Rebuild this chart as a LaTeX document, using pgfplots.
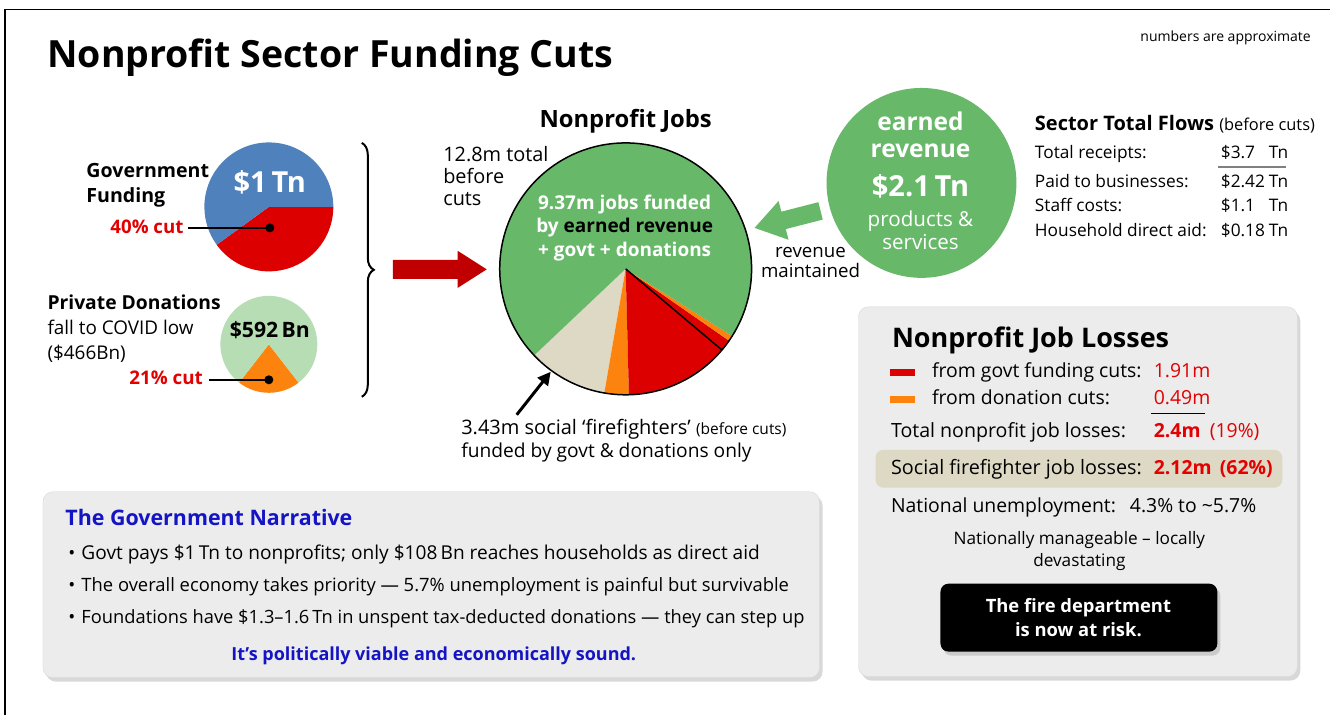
\documentclass[border=0pt]{standalone}
\usepackage{pgfplots}
\pgfplotsset{compat=1.18}
\usepackage{fontspec}
\setmainfont{Open Sans}
\usetikzlibrary{arrows.meta,decorations.pathreplacing,shadows}

\definecolor{npgreen}{RGB}{104,184,106}
\definecolor{npred}{RGB}{221,0,0}
\definecolor{nporange}{RGB}{252,132,14}
\definecolor{npbeige}{RGB}{221,217,196}
\definecolor{npblue}{RGB}{79,129,189}
\definecolor{nplight}{RGB}{183,221,180}
\definecolor{arrowred}{RGB}{192,0,0}
\definecolor{boxgray}{RGB}{236,236,236}
\definecolor{navy}{RGB}{20,20,196}
\definecolor{txtred}{RGB}{226,0,0}

\newcommand{\fs}[1]{\fontsize{#1}{#1}\selectfont}

% pie data: value/colour, drawn in order from the start angle
\def\govdata{0.40/npred, 0.60/npblue}            % $1 Tn, 40% cut
\def\donordata{0.21/nporange, 0.79/nplight}      % $592 Bn, 21% cut
\def\jobsdata{1.31/npbeige, 0.40/nporange, 1.72/npred, 0.19/npred, 0.09/nporange, 9.09/npgreen} % m jobs

% centre x, centre y, radius (pt), start angle, data
\newcommand{\drawpie}[5]{%
  \pgfplotsextra{%
    \gdef\pietotal{0}%
    \foreach \pv/\pc in #5 {\pgfmathparse{\pietotal+\pv}\xdef\pietotal{\pgfmathresult}}%
    \xdef\pieangle{#4}%
    \foreach \pv/\pc in #5 {%
      \pgfmathsetmacro\pieend{\pieangle+360*\pv/\pietotal}%
      \fill[\pc] (axis cs:#1,#2) -- ++(\pieangle:#3pt)
        arc[start angle=\pieangle, end angle=\pieend, radius=#3pt] -- cycle;
      \xdef\pieangle{\pieend}%
    }%
  }}

\begin{document}
\begin{tikzpicture}
\begin{axis}[x=1pt, y=1pt, xmin=0, xmax=1331, ymin=0, ymax=715,
  y dir=reverse, hide axis, clip=false, scale only axis,
  every node/.style={inner sep=0pt}]

  \fill[white] (axis cs:0,0) rectangle (axis cs:1331,715);
  \draw[line width=1.5pt] (axis cs:5,715) -- (axis cs:5,9.5) -- (axis cs:1331,9.5);

  % title
  \node[anchor=base west, font=\fs{37.5}\bfseries] at (axis cs:44,68) {Nonprofit Sector Funding Cuts};
  \node[anchor=base east, font=\fs{14}] at (axis cs:1315,42) {numbers are approximate};

  % government funding pie
  \drawpie{269}{207}{64.5}{216}{\govdata}
  \node[anchor=base, font=\fs{29}\bfseries, text=white] at (axis cs:270,193) {\$1\,Tn};
  \node[anchor=base west, font=\fs{19.6}\bfseries] at (axis cs:83,178) {Government};
  \node[anchor=base west, font=\fs{19.6}\bfseries] at (axis cs:83,203) {Funding};
  \node[anchor=base west, font=\fs{18.7}\bfseries, text=txtred] at (axis cs:107,234) {40\% cut};
  \draw[line width=2pt] (axis cs:188,228) -- (axis cs:270,228);
  \fill (axis cs:270,228) circle[radius=4.5pt];

  % private donations pie
  \drawpie{269}{344.5}{48.5}{232.2}{\donordata}
  \node[anchor=base, font=\fs{21.2}\bfseries] at (axis cs:270,338) {\$592\,Bn};
  \node[anchor=base west, font=\fs{19.3}\bfseries] at (axis cs:44,310) {Private Donations};
  \node[anchor=base west, font=\fs{18.9}] at (axis cs:44,335) {fall to COVID low};
  \node[anchor=base west, font=\fs{18.9}] at (axis cs:44,360) {(\$466Bn)};
  \node[anchor=base west, font=\fs{18.8}\bfseries, text=txtred] at (axis cs:126,385) {21\% cut};
  \draw[line width=2pt] (axis cs:209,380) -- (axis cs:269,380);
  \fill (axis cs:269,380) circle[radius=4.5pt];

  % brace and red arrow
  \draw[line width=2pt, decorate, decoration={brace, amplitude=12pt}] (axis cs:362,143) -- (axis cs:362,397);
  \fill[arrowred] (axis cs:393,260) -- (axis cs:458,260) -- (axis cs:458,251) -- (axis cs:487,269.5)
    -- (axis cs:458,288) -- (axis cs:458,279) -- (axis cs:393,279) -- cycle;

  % nonprofit jobs pie
  \node[anchor=base, font=\fs{23.8}\bfseries] at (axis cs:626,128) {Nonprofit Jobs};
  \drawpie{626}{269}{126}{223.4}{\jobsdata}
  \pgfmathsetmacro\sepangle{223.4+360*3.43/12.8}
  \draw[line width=1.5pt] (axis cs:626,269) -- ++(\sepangle:126pt);
  \draw[line width=1.5pt] (axis cs:626,269) circle[radius=126pt];
  \node[anchor=base west, font=\fs{19.9}] at (axis cs:440,162) {12.8m total};
  \node[anchor=base west, font=\fs{19.9}] at (axis cs:440,184) {before};
  \node[anchor=base west, font=\fs{19.9}] at (axis cs:440,206) {cuts};
  \node[anchor=base, font=\fs{19}\bfseries, text=white] at (axis cs:625,210) {9.37m jobs funded};
  \node[anchor=base, font=\fs{19}\bfseries, text=white] at (axis cs:625,233) {by \textcolor{black}{earned revenue}};
  \node[anchor=base, font=\fs{19}\bfseries, text=white] at (axis cs:625,257) {+ govt + donations};
  \draw[line width=3pt, -{Triangle[length=13pt,width=13pt]}] (axis cs:517,415) -- (axis cs:551,372);
  \node[anchor=base west, font=\fs{20}] at (axis cs:458,435) {3.43m social ‘firefighters’ {\fs{15.5}(before cuts)}};
  \node[anchor=base west, font=\fs{19.2}] at (axis cs:458,458) {funded by govt \& donations only};

  % earned revenue circle
  \fill[npgreen] (axis cs:922,183) circle[radius=95pt];
  \fill[npgreen] (axis cs:818.8,202.3) -- (axis cs:781.8,211.8) -- (axis cs:779,201.1) -- (axis cs:755,228)
    -- (axis cs:789,239.9) -- (axis cs:786.2,229.2) -- (axis cs:823.2,219.7) -- cycle;
  \node[anchor=base, font=\fs{24.5}\bfseries, text=white] at (axis cs:921,131) {earned};
  \node[anchor=base, font=\fs{24.5}\bfseries, text=white] at (axis cs:921,158) {revenue};
  \node[anchor=base, font=\fs{29}\bfseries, text=white] at (axis cs:921,197) {\$2.1\,Tn};
  \node[anchor=base, font=\fs{20.6}, text=white] at (axis cs:921,227) {products \&};
  \node[anchor=base, font=\fs{20.6}, text=white] at (axis cs:921,250) {services};
  \node[anchor=base, font=\fs{18.7}] at (axis cs:811,258) {revenue};
  \node[anchor=base, font=\fs{18.7}] at (axis cs:811,278) {maintained};

  % sector total flows
  \node[anchor=base west, font=\fs{20}] at (axis cs:1032,131) {\textbf{Sector Total Flows} {\fs{16.4}(before cuts)}};
  \node[anchor=base west, font=\fs{17.3}] at (axis cs:1032,159) {Total receipts:};
  \node[anchor=base west, font=\fs{17.3}] at (axis cs:1032,188) {Paid to businesses:};
  \node[anchor=base west, font=\fs{17.3}] at (axis cs:1032,212) {Staff costs:};
  \node[anchor=base west, font=\fs{17.3}] at (axis cs:1032,237) {Household direct aid:};
  \node[anchor=base west, font=\fs{17.3}] at (axis cs:1218,159) {\$3.7};
  \node[anchor=base west, font=\fs{17.3}] at (axis cs:1218,188) {\$2.42};
  \node[anchor=base west, font=\fs{17.3}] at (axis cs:1218,212) {\$1.1};
  \node[anchor=base west, font=\fs{17.3}] at (axis cs:1218,237) {\$0.18};
  \node[anchor=base west, font=\fs{17.3}] at (axis cs:1266,159) {Tn};
  \node[anchor=base west, font=\fs{17.3}] at (axis cs:1266,188) {Tn};
  \node[anchor=base west, font=\fs{17.3}] at (axis cs:1266,212) {Tn};
  \node[anchor=base west, font=\fs{17.3}] at (axis cs:1266,237) {Tn};
  \draw[line width=1.2pt, gray] (axis cs:1219,167) -- (axis cs:1287,167);

  % job losses box
  \filldraw[boxgray, draw=gray!30, rounded corners=10pt,
    drop shadow={shadow xshift=3pt, shadow yshift=-4pt, opacity=0.3}]
    (axis cs:859,307) rectangle (axis cs:1298,677);
  \node[anchor=base west, font=\fs{27}\bfseries] at (axis cs:889,348) {Nonprofit Job Losses};
  \draw[npred, line width=7pt] (axis cs:890,373) -- (axis cs:916,373);
  \draw[nporange, line width=7pt] (axis cs:890,400) -- (axis cs:916,400);
  \node[anchor=base west, font=\fs{19.4}] at (axis cs:929,378) {from govt funding cuts:};
  \node[anchor=base west, font=\fs{19.4}] at (axis cs:929,405) {from donation cuts:};
  \node[anchor=base west, font=\fs{19.4}, text=txtred] at (axis cs:1151,378) {1.91m};
  \node[anchor=base west, font=\fs{19.4}, text=txtred] at (axis cs:1151,405) {0.49m};
  \draw[line width=1pt] (axis cs:1152,414) -- (axis cs:1206,414);
  \node[anchor=base west, font=\fs{19.6}] at (axis cs:888,438) {Total nonprofit job losses:};
  \node[anchor=base west, font=\fs{19.4}\bfseries, text=txtred] at (axis cs:1151,438) {2.4m};
  \node[anchor=base west, font=\fs{19.4}, text=txtred] at (axis cs:1207,438) {(19\%)};
  \fill[npbeige, rounded corners=8pt] (axis cs:876,450) rectangle (axis cs:1283,488);
  \node[anchor=base west, font=\fs{19.8}] at (axis cs:888,475) {Social firefighter job losses:};
  \node[anchor=base west, font=\fs{19.4}\bfseries, text=txtred] at (axis cs:1151,475) {2.12m};
  \node[anchor=base west, font=\fs{19.4}\bfseries, text=txtred] at (axis cs:1217,475) {(62\%)};
  \node[anchor=base west, font=\fs{19.4}] at (axis cs:888,513) {National unemployment:};
  \node[anchor=base west, font=\fs{19.4}] at (axis cs:1127,513) {4.3\% to \textasciitilde5.7\%};
  \node[anchor=base, font=\fs{17.2}] at (axis cs:1080,545) {Nationally manageable – locally};
  \node[anchor=base, font=\fs{17.2}] at (axis cs:1080,567) {devastating};
  \fill[black, rounded corners=8pt,
    drop shadow={shadow xshift=3pt, shadow yshift=-4pt, opacity=0.3}]
    (axis cs:941,584) rectangle (axis cs:1218,652);
  \node[anchor=base, font=\fs{18.4}\bfseries, text=white] at (axis cs:1079,613) {The fire department};
  \node[anchor=base, font=\fs{18.4}\bfseries, text=white] at (axis cs:1079,637) {is now at risk.};

  % government narrative box
  \filldraw[boxgray, draw=gray!30, rounded corners=10pt,
    drop shadow={shadow xshift=3pt, shadow yshift=-4pt, opacity=0.3}]
    (axis cs:43,492) rectangle (axis cs:820,678);
  \node[anchor=base west, font=\fs{21.4}\bfseries, text=navy] at (axis cs:62,526) {The Government Narrative};
  \node[anchor=base west, font=\fs{18.6}] at (axis cs:65,560) {•};
  \node[anchor=base west, font=\fs{18.6}] at (axis cs:65,592) {•};
  \node[anchor=base west, font=\fs{18.6}] at (axis cs:65,624) {•};
  \node[anchor=base west, font=\fs{19.1}] at (axis cs:78,560) {Govt pays \$1\,Tn to nonprofits; only \$108\,Bn reaches households as direct aid};
  \node[anchor=base west, font=\fs{18.4}] at (axis cs:78,592) {The overall economy takes priority — 5.7\% unemployment is painful but survivable};
  \node[anchor=base west, font=\fs{18.3}] at (axis cs:78,624) {Foundations have \$1.3–1.6\,Tn in unspent tax-deducted donations — they can step up};
  \node[anchor=base, font=\fs{18}\bfseries, text=navy] at (axis cs:434,661) {It’s politically viable and economically sound.};
\end{axis}
\end{tikzpicture}
\end{document}
